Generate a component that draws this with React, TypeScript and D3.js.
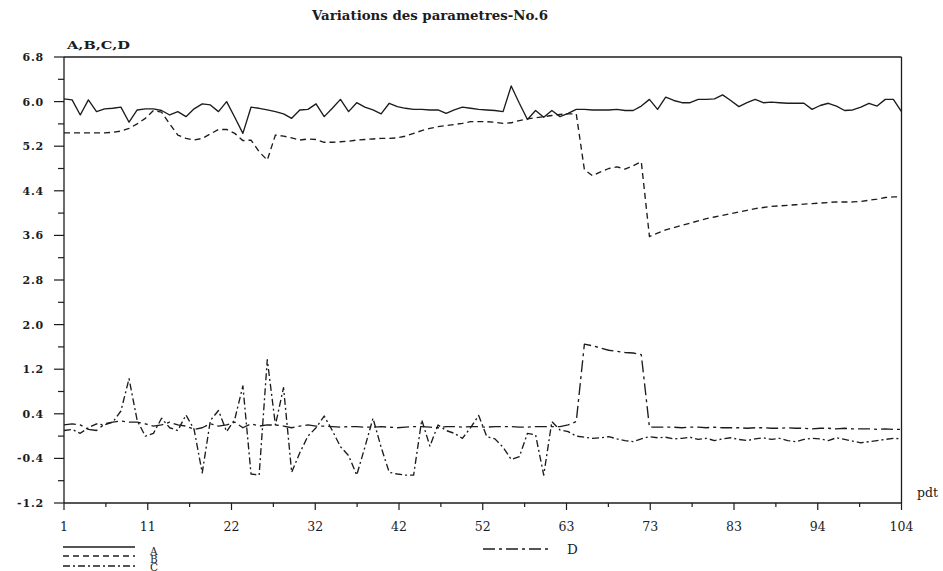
import React from "react";
import * as d3 from "d3";

// ---- data ----
const periods: number[] = d3.range(1, 105);

const seriesA: number[] = [
  6.05, 6.03, 5.76, 6.03, 5.82, 5.87, 5.88, 5.90, 5.63, 5.85,
  5.87, 5.87, 5.84, 5.76, 5.82, 5.73, 5.87, 5.96, 5.94, 5.82,
  6.00, 5.72, 5.43, 5.90, 5.88, 5.85, 5.82, 5.78, 5.70, 5.85,
  5.86, 5.96, 5.73, 5.88, 6.04, 5.82, 5.98, 5.90, 5.85, 5.78,
  5.97, 5.91, 5.88, 5.86, 5.86, 5.85, 5.85, 5.79, 5.85, 5.90,
  5.88, 5.86, 5.85, 5.84, 5.82, 6.28, 5.97, 5.68, 5.84, 5.72,
  5.84, 5.73, 5.79, 5.86, 5.86, 5.85, 5.85, 5.85, 5.86, 5.84,
  5.84, 5.92, 6.04, 5.86, 6.08, 6.02, 5.98, 5.98, 6.04, 6.04,
  6.05, 6.12, 6.02, 5.91, 5.98, 6.04, 5.98, 5.99, 5.98, 5.97,
  5.97, 5.97, 5.86, 5.93, 5.97, 5.92, 5.84, 5.85, 5.90, 5.97,
  5.92, 6.04, 6.04, 5.82,
];

const seriesB: number[] = [
  5.44, 5.44, 5.44, 5.44, 5.44, 5.44, 5.45, 5.47, 5.52, 5.60,
  5.70, 5.84, 5.81, 5.60, 5.40, 5.34, 5.31, 5.34, 5.42, 5.50,
  5.50, 5.43, 5.30, 5.31, 5.10, 4.95, 5.40, 5.38, 5.35, 5.31,
  5.33, 5.32, 5.27, 5.27, 5.28, 5.29, 5.31, 5.32, 5.33, 5.34,
  5.34, 5.35, 5.38, 5.43, 5.48, 5.52, 5.55, 5.57, 5.59, 5.61,
  5.64, 5.64, 5.64, 5.63, 5.61, 5.62, 5.66, 5.69, 5.71, 5.73,
  5.75, 5.77, 5.78, 5.78, 4.78, 4.67, 4.74, 4.80, 4.83, 4.79,
  4.85, 4.92, 3.58, 3.64, 3.70, 3.74, 3.78, 3.82, 3.86, 3.90,
  3.93, 3.96, 3.99, 4.02, 4.05, 4.08, 4.10, 4.12, 4.13, 4.14,
  4.15, 4.16, 4.17, 4.18, 4.19, 4.20, 4.20, 4.20, 4.21, 4.23,
  4.25, 4.28, 4.29, 4.29,
];

const seriesC: number[] = [
  0.10, 0.12, 0.05, 0.15, 0.22, 0.20, 0.25, 0.45, 1.03, 0.28,
  0.00, 0.05, 0.32, 0.15, 0.10, 0.38, 0.12, -0.66, 0.28, 0.46,
  0.08, 0.30, 0.90, -0.68, -0.70, 1.37, 0.20, 0.87, -0.65, -0.30,
  0.00, 0.15, 0.36, 0.10, -0.19, -0.35, -0.70, -0.20, 0.32, -0.20,
  -0.65, -0.68, -0.70, -0.70, 0.29, -0.18, 0.20, 0.10, 0.05, -0.04,
  0.15, 0.37, -0.01, -0.05, -0.20, -0.42, -0.37, 0.05, 0.02, -0.70,
  0.26, 0.11, 0.08, 0.00, -0.02, -0.04, -0.03, -0.01, -0.05, -0.08,
  -0.10, -0.05, -0.01, -0.03, -0.02, -0.05, -0.04, -0.02, -0.06, -0.04,
  -0.08, -0.05, -0.03, -0.06, -0.08, -0.05, -0.03, -0.06, -0.04, -0.08,
  -0.10, -0.06, -0.04, -0.05, -0.08, -0.03, -0.06, -0.09, -0.12, -0.10,
  -0.08, -0.06, -0.04, -0.05,
];

const seriesD: number[] = [
  0.20, 0.22, 0.20, 0.12, 0.10, 0.22, 0.25, 0.27, 0.25, 0.25,
  0.22, 0.18, 0.20, 0.25, 0.20, 0.18, 0.12, 0.15, 0.22, 0.18,
  0.20, 0.25, 0.15, 0.22, 0.18, 0.20, 0.20, 0.18, 0.15, 0.18,
  0.20, 0.18, 0.18, 0.17, 0.16, 0.17, 0.17, 0.16, 0.16, 0.17,
  0.16, 0.15, 0.16, 0.17, 0.17, 0.16, 0.15, 0.17, 0.17, 0.16,
  0.17, 0.17, 0.16, 0.17, 0.17, 0.17, 0.16, 0.16, 0.17, 0.17,
  0.17, 0.17, 0.20, 0.26, 1.65, 1.62, 1.58, 1.54, 1.52, 1.50,
  1.49, 1.46, 0.16, 0.16, 0.16, 0.16, 0.15, 0.16, 0.16, 0.15,
  0.16, 0.15, 0.15, 0.15, 0.14, 0.15, 0.15, 0.14, 0.14, 0.15,
  0.14, 0.14, 0.13, 0.14, 0.14, 0.13, 0.14, 0.13, 0.13, 0.13,
  0.12, 0.13, 0.12, 0.12,
];

const xTickLabels: string[] = ["1", "11", "22", "32", "42", "52", "63", "73", "83", "94", "104"];
const yTickValues: number[] = [-1.2, -0.4, 0.4, 1.2, 2.0, 2.8, 3.6, 4.4, 5.2, 6.0, 6.8];

const titleText = "Variations des parametres-No.6";
const yAxisTitle = "A,B,C,D";
const xAxisTitle = "pdt";

// ---- layout ----
const W = 943;
const H = 571;
const L = 64;
const R = 901.5;
const T = 57;
const B = 503;
const INK = "#1c1c1c";
const SERIF = "'DejaVu Serif', 'Liberation Serif', serif";

export default function App() {
  const x = d3.scaleLinear().domain([1, 104]).range([L, R]);
  const y = d3.scaleLinear().domain([-1.2, 6.8]).range([B, T]);

  const line = d3
    .line<number>()
    .x((_, i) => x(periods[i]))
    .y((d) => y(d));

  const n = xTickLabels.length - 1;
  const xMajor = xTickLabels.map((_, k) => 1 + (k * (104 - 1)) / n);
  const xMinor = xMajor.slice(0, -1).map((v, k) => (v + xMajor[k + 1]) / 2);
  const yMinor = yTickValues.slice(0, -1).map((v, k) => (v + yTickValues[k + 1]) / 2);

  const series = [
    { key: "A", data: seriesA, dash: undefined },
    { key: "B", data: seriesB, dash: "6,4" },
    { key: "C", data: seriesC, dash: "7,3,2,3" },
    { key: "D", data: seriesD, dash: "12,4,3,4" },
  ];

  return (
    <svg
      width={W}
      height={H}
      viewBox={`0 0 ${W} ${H}`}
      style={{ position: "absolute", left: 0, top: 0, background: "#fff" }}
    >
      <rect x={0} y={0} width={W} height={H} fill="#fff" />
      {/* title */}
      <text
        x={312}
        y={20}
        fontFamily={SERIF}
        fontWeight="bold"
        fontSize={12}
        fill={INK}
        textLength={236}
        lengthAdjust="spacingAndGlyphs"
      >
        {titleText}
      </text>
      <text
        x={67}
        y={49}
        fontFamily={SERIF}
        fontWeight="bold"
        fontSize={10.5}
        fill={INK}
        textLength={63}
        lengthAdjust="spacingAndGlyphs"
      >
        {yAxisTitle}
      </text>

      {/* frame */}
      <g stroke={INK} strokeWidth={1.3} fill="none">
        <line x1={L} y1={T} x2={R} y2={T} />
        <line x1={R} y1={T} x2={R} y2={B} />
        <line x1={L} y1={B} x2={R} y2={B} />
        <line x1={L} y1={T} x2={L} y2={B} />
      </g>

      {/* y ticks */}
      <g stroke={INK} strokeWidth={1.2}>
        {yTickValues.map((v) => (
          <line key={"ym" + v} x1={L - 10} x2={L} y1={y(v)} y2={y(v)} />
        ))}
        {yMinor.map((v) => (
          <line key={"yn" + v} x1={L - 6} x2={L} y1={y(v)} y2={y(v)} />
        ))}
      </g>
      <g fontFamily={SERIF} fontWeight="bold" fontSize={11} fill={INK} textAnchor="end">
        {yTickValues.map((v) => (
          <text key={"yl" + v} x={44} y={y(v) + 4} letterSpacing={0.8}>
            {v.toFixed(1)}
          </text>
        ))}
      </g>

      {/* x ticks */}
      <g stroke={INK} strokeWidth={1.2}>
        {xMajor.map((v) => (
          <line key={"xm" + v} x1={x(v)} x2={x(v)} y1={B} y2={B + 7} />
        ))}
        {xMinor.map((v) => (
          <line key={"xn" + v} x1={x(v)} x2={x(v)} y1={B} y2={B + 4} />
        ))}
      </g>
      <g fontFamily={SERIF} fontSize={12.5} fill={INK} textAnchor="middle">
        {xMajor.map((v, k) => (
          <text key={"xl" + k} x={x(v)} y={531}>
            {xTickLabels[k]}
          </text>
        ))}
      </g>
      <text x={917} y={497} fontFamily={SERIF} fontSize={12.5} fill={INK}>
        {xAxisTitle}
      </text>

      {/* series */}
      <g fill="none" stroke={INK} strokeWidth={1.35} strokeLinejoin="round">
        {series.map((s) => (
          <path key={s.key} d={line(s.data) || ""} strokeDasharray={s.dash} />
        ))}
      </g>

      {/* legend */}
      <g fill="none" stroke={INK} strokeWidth={1.3}>
        <line x1={63} x2={135} y1={547} y2={547} />
        <line x1={63} x2={135} y1={556} y2={556} strokeDasharray="6,4" />
        <line x1={63} x2={135} y1={566} y2={566} strokeDasharray="7,3,2,3" />
        <line x1={483} x2={548} y1={549} y2={549} strokeDasharray="12,4,3,4" />
      </g>
      <g fontFamily={SERIF} fontSize={10.5} fill={INK}>
        <text x={150} y={554.5}>A</text>
        <text x={150} y={562.5}>B</text>
        <text x={150} y={570.5}>C</text>
      </g>
      <text x={567} y={553.5} fontFamily={SERIF} fontSize={13.5} fill={INK}>
        D
      </text>
    </svg>
  );
}
